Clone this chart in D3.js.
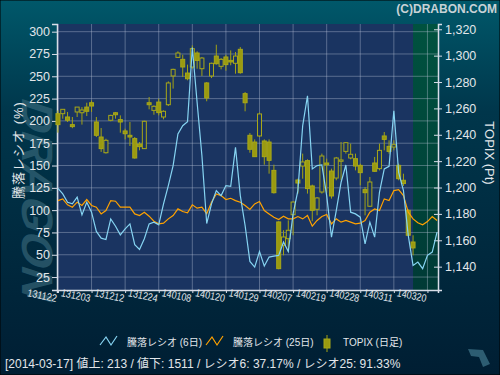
<!DOCTYPE html>
<html lang="ja">
<head>
<meta charset="utf-8">
<title>騰落レシオ</title>
<script src="https://cdn.jsdelivr.net/npm/d3@7"></script>
<style>
  body { margin: 0; background: #001f35; }
  text { font-family: "Liberation Sans", "Noto Sans CJK JP", sans-serif; }
</style>
</head>
<body>
<script>
// data (index = trading day from 2013-11-22)
var tickIdx = [0, 7, 14, 21, 28, 35, 42, 49, 56, 63, 70, 77];
var tickLabels = ["131122", "131203", "131212", "131224", "140108", "140120",
                  "140129", "140207", "140219", "140228", "140311", "140320"];

var ratio6 = [124.5,118.2,108.9,107,114.5,94.7,108.9,97.7,76.1,68.6,
              67.1,90.2,82,72.3,79,84.6,61.2,56,67.9,84.6,
              86.5,83.5,107,127.5,149.9,185.3,194.6,199,282.1,220.6,
              161,85,107,121.9,116.3,127.5,126.8,170.3,116.3,82.8,
              42.5,36.2,53.7,37.3,47.4,48.5,49.3,64.2,53.7,95.8,
              121.9,194.6,228.1,146.1,149.9,150.6,116.3,69.8,99.5,131.2,
              150.6,97.7,95.8,92.1,62.3,86.5,69.8,120,146.1,149.1,
              211.3,142.4,121.9,71.6,38.1,41.8,34.4,49.3,53,75.3];

var ratio25 = [110.7,112.6,105.9,103.3,108.9,105.2,111.9,105.2,103.3,95.8,
               99.5,110.7,110,103.3,103.3,103.3,95.8,94,97.7,93.2,
               87.6,84.6,85.4,90.2,94,101.4,98.4,96.9,105.9,102.2,
               103.3,96,108.9,118.2,116.3,111.9,113.3,110.7,108.9,105.2,
               100.7,107,109.6,99.5,95.8,92.1,89.5,93.2,90.2,90.2,
               92.8,90.2,94,82,88.4,92.8,95.1,84.6,90.2,86.5,
               88.4,86.5,84.6,85.4,88.4,97.7,101.4,99.5,112.6,110.7,
               121.9,123,116.3,97.7,90.2,85.8,83.5,87.2,92.8,88.4];

var topixOpen = [1256,1256,1253.5,1247.7,1257.3,1256.7,1261,1264.3,1249.7,1238.3,
                 1226.4,1251,1256.7,1251.5,1242.9,1239.6,1237.1,1233,1229.5,1264.3,
                 1258.5,1264.8,1253.5,1262.8,1284.6,1298.7,1297.2,1286.8,1291.4,1302,
                 1290.1,1279.3,1284.6,1299.7,1291.9,1299,1296.4,1294.2,1304.8,1271.2,
                 1239.6,1234.5,1239.1,1235.3,1234.5,1213,1173.9,1156.2,1161.2,1179.4,
                 1205.7,1216.3,1220.4,1201.2,1183.5,1196.6,1218.6,1212.5,1207.2,1219.9,
                 1227.4,1222.4,1221.9,1216.8,1198.4,1185.8,1218.6,1214.3,1239.1,1231.2,
                 1230.7,1216.8,1205.5,1182.7,1158.7];
var topixHigh = [1258.5,1259.3,1257.3,1253.5,1261,1261,1264.3,1266,1253.5,1245.1,
                 1237,1255.2,1257.3,1254.7,1244.6,1249.7,1238.3,1234.5,1250.7,1268.6,
                 1262.3,1267.4,1258.5,1280.5,1290.1,1303.3,1300.7,1293.2,1307.8,1303.3,
                 1299,1280,1294.7,1308.3,1298.2,1300.7,1304,1302.8,1306.5,1272.4,
                 1241.3,1236.5,1256.8,1236.5,1236.5,1217.3,1174.4,1167.6,1175.1,1189.5,
                 1206.7,1225.7,1221.4,1202.2,1192.8,1225.7,1221.9,1214.3,1223.2,1234.5,
                 1234.5,1233.3,1225.7,1218.1,1200.4,1208,1223.2,1233.3,1242.1,1235.8,
                 1235.8,1218.1,1210.5,1183.5,1163.8];
var topixLow = [1241.6,1252.2,1249.7,1245,1253.5,1247.7,1254.2,1257.3,1238.3,1227,
                1225.7,1250.2,1252.2,1241.6,1236.5,1231.5,1221.9,1228.2,1229.2,1259.3,
                1255.2,1254.7,1251.7,1261.8,1275,1298.2,1283.8,1281.3,1290.1,1290.1,
                1284.6,1265.4,1283,1293.2,1289.6,1288.6,1292.7,1286.3,1286.3,1257.8,
                1226.4,1223.2,1238.3,1217.3,1210.5,1195.4,1138,1148.6,1151.1,1163.8,
                1195.4,1206.7,1195.4,1174.4,1178.9,1195.4,1196.1,1191.6,1205.5,1205.5,
                1225.7,1221.4,1213,1201.7,1178.9,1185.3,1211.8,1213,1228.2,1225.7,
                1228.2,1205.5,1201.2,1163.3,1148.6];
var topixClose = [1247.7,1259.3,1251,1246.2,1261,1258.8,1257.8,1261.8,1239.6,1229.5,
                  1235.8,1254.7,1255.2,1249.7,1240.8,1238.3,1222.4,1231,1250.2,1262.8,
                  1261.6,1256.8,1257.8,1279.3,1289.6,1302,1291.4,1282.5,1305.3,1296.4,
                  1298.2,1267.9,1294.2,1293.9,1297.2,1293.2,1295.2,1299.7,1287.1,1264.3,
                  1229,1223.4,1255.8,1223.4,1220.6,1196.1,1138.5,1162.5,1167.6,1189,
                  1203.4,1219.4,1199.2,1182.7,1192.1,1223.9,1217.3,1193.6,1222.4,1220.9,
                  1234,1225.2,1216.3,1211.3,1196.1,1204.2,1212.3,1228.2,1236.5,1227.4,
                  1232.5,1206.7,1203,1163.8,1154.2];

var ratioTicks = [25, 50, 75, 100, 125, 150, 175, 200, 225, 250, 275, 300];
var topixTicks = [1140, 1160, 1180, 1200, 1220, 1240, 1260, 1280, 1300, 1320];
var lastIdx = 74;   // 2014-03-17

var w = 500, h = 375;
var pL = 57, pR = 438, pT = 24, pB = 290;

var x = d3.scaleLinear().domain([-0.2, 79.2]).range([pL, pR]);
var yL = d3.scaleLinear().domain([10.5, 308.6]).range([pB, pT]);
var yR = d3.scaleLinear().domain([1122.3, 1324]).range([pB, pT]);

var svg = d3.select("body").append("svg")
  .attr("width", w).attr("height", h);

var defs = svg.append("defs");
var bg = defs.append("linearGradient").attr("id", "bg")
  .attr("x1", 0).attr("y1", 0).attr("x2", 0).attr("y2", 1);
bg.append("stop").attr("offset", 0).attr("stop-color", "#00586a");
bg.append("stop").attr("offset", 0.3).attr("stop-color", "#00364b");
bg.append("stop").attr("offset", 1).attr("stop-color", "#001e33");
var gr = defs.append("linearGradient").attr("id", "future")
  .attr("x1", 0).attr("y1", 0).attr("x2", 0).attr("y2", 1);
gr.append("stop").attr("offset", 0).attr("stop-color", "#00523f");
gr.append("stop").attr("offset", 1).attr("stop-color", "#003a36");

svg.append("rect").attr("width", w).attr("height", h)
  .attr("fill", "url(#bg)").attr("stroke", "#000").attr("stroke-width", 1);

// watermark
svg.append("text")
  .attr("transform", "translate(22,96) rotate(90) skewX(-18)")
  .attr("font-size", 44).attr("font-weight", "bold")
  .attr("fill", "#3d6e80").attr("fill-opacity", 0.6)
  .attr("textLength", 200).attr("lengthAdjust", "spacingAndGlyphs")
  .text("DRAGON");

svg.append("text")
  .attr("x", 497).attr("y", 13).attr("text-anchor", "end")
  .attr("font-size", 12).attr("font-weight", "bold").attr("fill", "#c8d2d6")
  .text("(C)DRABON.COM");

// plot area
svg.append("rect").attr("x", pL).attr("y", pT)
  .attr("width", pR - pL).attr("height", pB - pT)
  .attr("fill", "#1a3461");
svg.append("rect").attr("x", x(lastIdx)).attr("y", pT)
  .attr("width", pR - x(lastIdx)).attr("height", pB - pT)
  .attr("fill", "url(#future)");

var grid = svg.append("g").attr("stroke", "#b8c4d8").attr("stroke-opacity", 0.4);
grid.selectAll("line.h").data(ratioTicks).enter().append("line")
  .attr("x1", pL).attr("x2", pR)
  .attr("y1", function(d) { return yL(d); })
  .attr("y2", function(d) { return yL(d); });
grid.selectAll("line.v").data(tickIdx).enter().append("line")
  .attr("y1", pT).attr("y2", pB)
  .attr("x1", function(d) { return x(d); })
  .attr("x2", function(d) { return x(d); });

// axes
var yAxisL = d3.axisLeft(yL).tickValues(ratioTicks).tickSize(5).tickPadding(2);
var gL = svg.append("g").attr("transform", "translate(" + pL + ",0)").call(yAxisL);
var yAxisR = d3.axisRight(yR).tickValues(topixTicks).tickSize(4).tickPadding(3)
  .tickFormat(d3.format(","));
var gR = svg.append("g").attr("transform", "translate(" + pR + ",0)").call(yAxisR);
gR.selectAll(".tick line").attr("x1", -4);
var xAxis = d3.axisBottom(x).tickValues(tickIdx).tickSize(3).tickFormat("");
var gX = svg.append("g").attr("transform", "translate(0," + pB + ")").call(xAxis);

[gL, gR, gX].forEach(function(g) {
  g.select(".domain").attr("stroke", "#d8dde8").attr("stroke-width", 1.5);
  g.selectAll(".tick line").attr("stroke", "#d8dde8");
  g.selectAll("text").attr("fill", "#e2e6ea").attr("font-size", 12.5)
    .attr("font-family", "Liberation Sans, sans-serif");
});

gX.selectAll(".tick").append("text")
  .attr("x", -17).attr("y", 9)
  .attr("transform", "rotate(12,-17,9)")
  .attr("font-size", 10.5)
  .attr("textLength", 30).attr("lengthAdjust", "spacingAndGlyphs")
  .attr("fill", "#e2e6ea")
  .text(function(d) { return tickLabels[tickIdx.indexOf(d)]; });

// axis titles
svg.append("text")
  .attr("transform", "translate(18,150) rotate(-90)")
  .attr("text-anchor", "middle").attr("dominant-baseline", "central")
  .attr("font-size", 13).attr("letter-spacing", 1).attr("fill", "#e2e6ea")
  .text("騰落レシオ (%)");
svg.append("text")
  .attr("transform", "translate(489,153) rotate(90)")
  .attr("text-anchor", "middle").attr("dominant-baseline", "central")
  .attr("font-size", 13).attr("fill", "#e2e6ea")
  .text("TOPIX (Pt)");

// candles
var candles = d3.range(topixOpen.length).map(function(i) {
  return { i: i, o: topixOpen[i], h: topixHigh[i], l: topixLow[i], c: topixClose[i] };
});
var cg = svg.append("g");
cg.selectAll("line").data(candles).enter().append("line")
  .attr("x1", function(d) { return x(d.i); })
  .attr("x2", function(d) { return x(d.i); })
  .attr("y1", function(d) { return yR(d.h); })
  .attr("y2", function(d) { return yR(d.l); })
  .attr("stroke", "#a2a214").attr("stroke-width", 1);
cg.selectAll("rect").data(candles).enter().append("rect")
  .attr("x", function(d) { return x(d.i) - 2; })
  .attr("width", 4)
  .attr("y", function(d) { return yR(Math.max(d.o, d.c)); })
  .attr("height", function(d) { return Math.max(1, Math.abs(yR(d.o) - yR(d.c))); })
  .attr("fill", function(d) { return d.c >= d.o ? "#1a3461" : "#9a9a10"; })
  .attr("stroke", "#a8a818").attr("stroke-width", 1);

// ratio lines
var ratioLine = d3.line().x(function(d, i) { return x(i); }).y(function(d) { return yL(d); });
svg.append("path").datum(ratio25).attr("d", ratioLine)
  .attr("fill", "none").attr("stroke", "#ffa200").attr("stroke-width", 1.2);
svg.append("path").datum(ratio6).attr("d", ratioLine)
  .attr("fill", "none").attr("stroke", "#86d4f2").attr("stroke-width", 1.2);

// legend
var lg = svg.append("g").attr("font-size", 10).attr("fill", "#e2e6ea");
lg.append("path").attr("d", "M100,345 L106,337 L111,345 L117,336")
  .attr("fill", "none").attr("stroke", "#86d4f2").attr("stroke-width", 1.2);
lg.append("text").attr("x", 127).attr("y", 346).text("騰落レシオ (6日)");
lg.append("path").attr("d", "M206,345 L212,337 L217,345 L223,336")
  .attr("fill", "none").attr("stroke", "#ffa200").attr("stroke-width", 1.2);
lg.append("text").attr("x", 233).attr("y", 346).text("騰落レシオ (25日)");
lg.append("line").attr("x1", 327).attr("x2", 327).attr("y1", 335).attr("y2", 352)
  .attr("stroke", "#a2a214");
lg.append("rect").attr("x", 324).attr("y", 339).attr("width", 6).attr("height", 9)
  .attr("fill", "#9a9a10").attr("stroke", "#a8a818");
lg.append("text").attr("x", 343).attr("y", 346).text("TOPIX (日足)");

svg.append("text").attr("x", 5).attr("y", 368)
  .attr("font-size", 12).attr("fill", "#e2e6ea")
  .text("[2014-03-17]  値上: 213 / 値下: 1511 / レシオ6: 37.17% / レシオ25: 91.33%");

// little logo bottom right
svg.append("path")
  .attr("d", "M468,349 L483,350 L485,354 L490,364 L483,367 L479,357 L471,356 Z")
  .attr("fill", "#2d5d72");
</script>
</body>
</html>
